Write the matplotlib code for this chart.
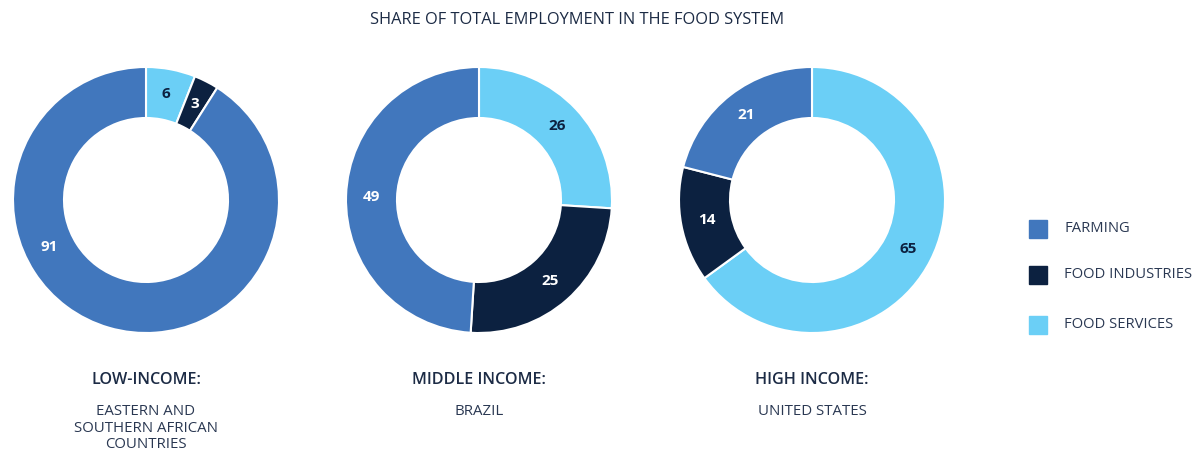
import numpy as np
import matplotlib.pyplot as plt
from matplotlib.patches import Rectangle

plt.rcParams['font.family'] = ['Open Sans', 'DejaVu Sans']

# Data
categories = ['FARMING', 'FOOD INDUSTRIES', 'FOOD SERVICES']
colors = ['#4177bd', '#0c2140', '#6bcff6']
label_colors = ['white', 'white', '#0c2140']

groups = ['LOW-INCOME:', 'MIDDLE INCOME:', 'HIGH INCOME:']
regions = ['EASTERN AND\nSOUTHERN AFRICAN\nCOUNTRIES', 'BRAZIL', 'UNITED STATES']
farming = [91, 49, 21]
food_industries = [3, 25, 14]
food_services = [6, 26, 65]

W, H = 1192, 453
fig = plt.figure(figsize=(W / 100, H / 100), dpi=100)

centers_x = [146, 479, 812]
cy = 200
r_px = 133
box = 290
lim = box / 2 / r_px
width = 1 - 82 / r_px
text_col = '#1c2b45'

for i, cx in enumerate(centers_x):
    ax = fig.add_axes([(cx - box / 2) / W, (H - cy - box / 2) / H, box / W, box / H])
    # order clockwise from 12 o'clock: services, industries, farming
    vals = [food_services[i], food_industries[i], farming[i]]
    cols = [colors[2], colors[1], colors[0]]
    lcols = [label_colors[2], label_colors[1], label_colors[0]]
    wedges, texts = ax.pie(vals, colors=cols, startangle=90, counterclock=False,
                           radius=1, labels=[str(v) for v in vals],
                           labeldistance=1 - width / 2,
                           wedgeprops=dict(width=width, edgecolor='white', linewidth=1.5),
                           textprops=dict(fontsize=11, fontweight='bold', ha='center', va='center'))
    for t, c in zip(texts, lcols):
        t.set_color(c)
    # the big farming label sits off-centre in the low-income donut
    if i == 0:
        a = np.deg2rad(206)
        rr = 1 - width / 2
        texts[2].set_position((rr * np.cos(a), rr * np.sin(a)))
    ax.set_xlim(-lim, lim)
    ax.set_ylim(-lim, lim)
    ax.set_aspect('equal')
    ax.axis('off')

    fig.text(cx / W, 1 - 380 / H, groups[i], ha='center', va='center',
             fontsize=11.6, fontweight='semibold', color=text_col)
    fig.text(cx / W, 1 - 404 / H, regions[i], ha='center', va='top',
             fontsize=10.8, color='#2a3852', linespacing=1.15)

fig.text(577 / W, 1 - 20 / H, 'SHARE OF TOTAL EMPLOYMENT IN THE FOOD SYSTEM',
         ha='center', va='center', fontsize=11.8, color=text_col)

# legend
leg_y = [229, 275, 325]
for y, c, name in zip(leg_y, colors, categories):
    fig.patches.append(Rectangle((1029 / W, 1 - (y + 9) / H), 18 / W, 18 / H,
                                 transform=fig.transFigure, color=c))
    fig.text(1064 / W, 1 - y / H, name, ha='left', va='center',
             fontsize=10.6, color='#2a3852')

fig.savefig('out.png', dpi=100)
